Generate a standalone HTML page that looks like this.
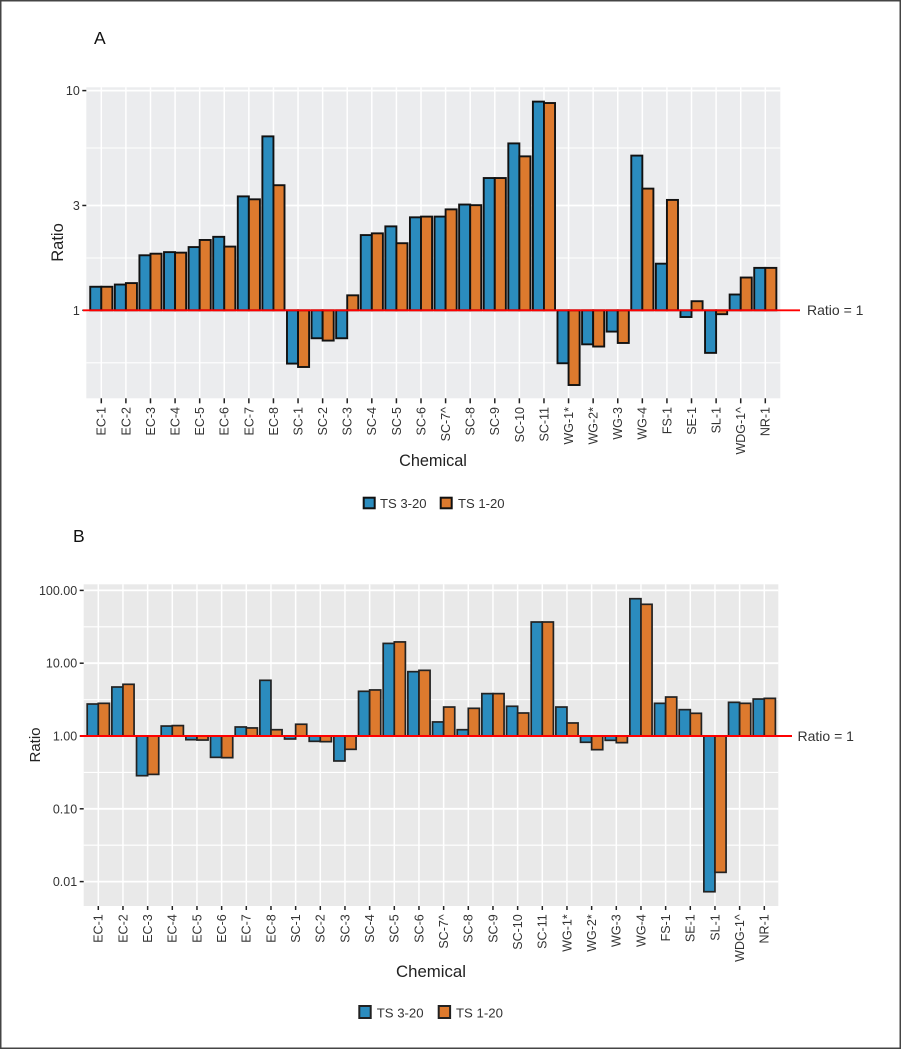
<!DOCTYPE html>
<html>
<head>
<meta charset="utf-8">
<title>Ratio by chemical</title>
<style>
html,body{margin:0;padding:0;background:#fff;width:901px;height:1050px;overflow:hidden}
svg{display:block;font-family:"Liberation Sans",sans-serif}
</style>
</head>
<body>
<svg id="chart" width="901" height="1050" viewBox="0 0 901 1050" xmlns="http://www.w3.org/2000/svg">
  <rect x="0" y="0" width="901" height="1050" fill="#ffffff"/>
  <g id="a"></g>
  <g id="b"></g>
  <rect x="0.75" y="0.75" width="899.5" height="1047.5" fill="none" stroke="#444444" stroke-width="1.5"/>
  <text x="94" y="44" font-size="17.5" fill="#111">A</text>
  <text x="73" y="542" font-size="17.5" fill="#111">B</text>
  <text x="433" y="466" font-size="16.3" text-anchor="middle" fill="#222">Chemical</text>
  <text x="431" y="977" font-size="16.8" text-anchor="middle" fill="#222">Chemical</text>
  <text transform="translate(63,242.5) rotate(-90)" font-size="16.5" text-anchor="middle" fill="#222">Ratio</text>
  <text transform="translate(40,745) rotate(-90)" font-size="15" text-anchor="middle" fill="#222">Ratio</text>
  <text x="807" y="315" font-size="14" fill="#333">Ratio = 1</text>
  <text x="797.5" y="741" font-size="14" fill="#333">Ratio = 1</text>
  <g>
    <rect x="363.7" y="497.7" width="11" height="10.6" fill="#2b8cbe" stroke="#111" stroke-width="2"/>
    <text x="380" y="508" font-size="13.1" fill="#333">TS 3-20</text>
    <rect x="440.7" y="497.7" width="11" height="10.6" fill="#dd7a2e" stroke="#111" stroke-width="2"/>
    <text x="458" y="508" font-size="13.1" fill="#333">TS 1-20</text>
  </g>
  <g>
    <rect x="359.3" y="1006" width="11.4" height="12" fill="#2b8cbe" stroke="#222" stroke-width="2"/>
    <text x="376.7" y="1017.5" font-size="13.2" fill="#333">TS 3-20</text>
    <rect x="438.7" y="1006" width="11.4" height="12" fill="#dd7a2e" stroke="#222" stroke-width="2"/>
    <text x="456" y="1017.5" font-size="13.2" fill="#333">TS 1-20</text>
  </g>
</svg>
<script>
var categoriesA = ["EC-1","EC-2","EC-3","EC-4","EC-5","EC-6","EC-7","EC-8","SC-1","SC-2","SC-3","SC-4","SC-5","SC-6","SC-7^","SC-8","SC-9","SC-10","SC-11","WG-1*","WG-2*","WG-3","WG-4","FS-1","SE-1","SL-1","WDG-1^","NR-1"];
var categoriesB = ["EC-1","EC-2","EC-3","EC-4","EC-5","EC-6","EC-7","EC-8","SC-1","SC-2","SC-3","SC-4","SC-5","SC-6","SC-7^","SC-8","SC-9","SC-10","SC-11","WG-1*","WG-2*","WG-3","WG-4","FS-1","SE-1","SL-1","WDG-1^","NR-1"];
var panelA_ts320 = [1.28,1.31,1.78,1.84,1.94,2.16,3.30,6.19,0.572,0.746,0.746,2.20,2.41,2.65,2.67,3.03,4.00,5.75,8.91,0.574,0.70,0.80,5.06,1.63,0.932,0.64,1.18,1.56];
var panelA_ts120 = [1.28,1.33,1.81,1.83,2.09,1.95,3.20,3.71,0.552,0.728,1.17,2.24,2.02,2.67,2.88,3.01,4.00,5.02,8.78,0.457,0.684,0.71,3.58,3.18,1.10,0.96,1.41,1.56];
var panelB_ts320 = [2.75,4.71,0.285,1.37,0.89,0.509,1.33,5.82,0.91,0.845,0.454,4.11,18.7,7.65,1.56,1.22,3.82,2.56,36.8,2.50,0.82,0.872,76.9,2.81,2.30,0.00726,2.90,3.22];
var panelB_ts120 = [2.81,5.13,0.297,1.39,0.88,0.504,1.29,1.22,1.45,0.836,0.656,4.29,19.6,7.98,2.50,2.40,3.82,2.07,36.8,1.51,0.649,0.81,64.4,3.43,2.05,0.0134,2.81,3.29];
var tickValuesA = [10,3,1];
var tickLabelsA = ["10","3","1"];
var minorBreaksA = [5.48,1.73,0.577];
var tickValuesB = [100,10,1,0.1,0.01];
var tickLabelsB = ["100.00","10.00","1.00","0.10","0.01"];
var minorBreaksB = [31.6,3.16,0.316,0.0316];

var NS = 'http://www.w3.org/2000/svg';
function node(parent, tag, attrs){
  var el = document.createElementNS(NS, tag);
  for (var k in attrs) el.setAttribute(k, attrs[k]);
  parent.appendChild(el);
  return el;
}
function slug(s){ return s.toLowerCase().replace(/\^/g,'-caret').replace(/\*/g,'-star'); }

function drawPanel(p){
  var g = document.getElementById(p.id);
  var n = p.categories.length;
  function x(i){ return p.x0 + (p.xN - p.x0) * i / (n - 1); }
  function y(v){ return p.y1 - p.decade * Math.log10(v); }
  var step = (p.xN - p.x0) / (n - 1);

  var bg = node(g, 'rect', {x:p.left, y:p.top, width:p.right-p.left, height:p.bottom-p.top, fill:p.bg});
  
  

  p.minor.forEach(function(v){
    var l = node(g, 'line', {x1:p.left, x2:p.right, y1:y(v), y2:y(v), stroke:'#ffffff', 'stroke-width':1.1});
    
    
  });
  p.ticks.forEach(function(v, i){
    var l = node(g, 'line', {x1:p.left, x2:p.right, y1:y(v), y2:y(v), stroke:'#ffffff', 'stroke-width':1.8});
    
    
    var t = node(g, 'line', {x1:p.left-4, x2:p.left, y1:y(v), y2:y(v), stroke:'#222', 'stroke-width':1.5});
    
    
    var lab = node(g, 'text', {x:p.left-6.5, y:y(v)+4.5, 'text-anchor':'end', 'font-size':p.tickFont, fill:'#333'});
    
    
    lab.textContent = p.tickLabels[i];
  });
  p.categories.forEach(function(c, i){
    var l = node(g, 'line', {x1:x(i), x2:x(i), y1:p.top, y2:p.bottom, stroke:'#ffffff', 'stroke-width':1.5});
    
    
  });

  var w = step * 0.45;
  function bars(vals, off, fill, sname){
    vals.forEach(function(v, i){
      var yv = y(v), top = Math.min(yv, p.y1), h = Math.abs(yv - p.y1);
      var r = node(g, 'rect', {x:x(i)+off*w, y:top, width:w, height:h, fill:fill, stroke:p.outline, 'stroke-width':p.barStroke});
      
      
    });
  }
  bars(p.s1, -1, '#2b8cbe', 'ts-3-20');
  bars(p.s2, 0, '#dd7a2e', 'ts-1-20');

  p.categories.forEach(function(c, i){
    var t = node(g, 'line', {x1:x(i), x2:x(i), y1:p.bottom, y2:p.bottom+p.tickLen, stroke:'#222', 'stroke-width':1.5});
    
    
    var lab = node(g, 'text', {transform:'translate(' + (x(i)+4.4) + ',' + p.labelY + ') rotate(-90)', 'text-anchor':'end', 'font-size':p.tickFont, fill:'#333'});
    
    
    lab.textContent = c;
  });

  var ref = node(g, 'line', {x1:p.refX1, x2:p.refX2, y1:p.y1, y2:p.y1, stroke:'#ff0000', 'stroke-width':1.9});
  
  
}

drawPanel({id:'a', categories:categoriesA, s1:panelA_ts320, s2:panelA_ts120, ticks:tickValuesA, tickLabels:tickLabelsA, minor:minorBreaksA,
  left:86.3, right:780.3, top:87.3, bottom:398.3, x0:101.3, xN:765.3, y1:310.3, decade:219.7, bg:'#ebecee', outline:'#111111', barStroke:1.9, tickFont:12.5, tickLen:5, labelY:407, refX1:83, refX2:800});
drawPanel({id:'b', categories:categoriesB, s1:panelB_ts320, s2:panelB_ts120, ticks:tickValuesB, tickLabels:tickLabelsB, minor:minorBreaksB,
  left:83.7, right:778.3, top:584.3, bottom:906, x0:98.3, xN:764.3, y1:736, decade:72.8, bg:'#e9e9e9', outline:'#222222', barStroke:1.7, tickFont:12.5, tickLen:4, labelY:914.3, refX1:80, refX2:792});
</script>
</body>
</html>
